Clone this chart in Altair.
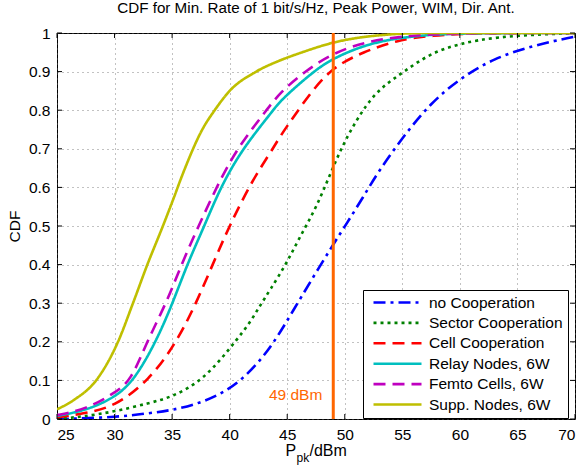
import altair as alt
import pandas as pd

# ---------------- data ----------------
series_names = ["no Cooperation", "Sector Cooperation", "Cell Cooperation",
                "Relay Nodes, 6W", "Femto Cells, 6W", "Supp. Nodes, 6W"]
series_colors = ["#0000FF", "#008000", "#FF0000", "#00BFBF", "#BF00BF", "#BFBF00"]
series_dashes = [[12, 5, 3, 5], [3, 4], [12, 7], [1, 0], [12, 7], [1, 0]]

x_none = [25, 30, 33, 35.07, 37.4, 39.4, 41.2, 42.9, 44.2, 45.5, 47.0, 48.86, 50.16,
          51.6, 53.0, 55.07, 57.4, 60.0, 62.9, 66.4, 69.85, 70]
y_none = [0, 0.004, 0.015, 0.023, 0.041, 0.067, 0.105, 0.16, 0.215, 0.28, 0.355, 0.446,
          0.506, 0.575, 0.645, 0.731, 0.817, 0.882, 0.934, 0.968, 0.99, 0.99]

x_sector = [25, 27.2, 30, 33, 35.1, 37.4, 39.1, 40.6, 41.75, 42.6, 43.5, 44.94, 46.1, 47.55,
            48.8, 50.15, 51.9, 53.3, 55.1, 57.4, 60, 63.2, 67.5, 70]
y_sector = [0, 0.006, 0.019, 0.041, 0.058, 0.097, 0.149, 0.205, 0.249, 0.292, 0.334, 0.403,
            0.472, 0.549, 0.64, 0.731, 0.817, 0.862, 0.899, 0.947, 0.973, 0.99, 0.997, 1.0]

x_cell = [25, 27.5, 30, 33, 35.35, 37.1, 38.8, 40.1, 42, 43.5, 44.35, 45.6, 47.2, 49, 51.6,
          54.5, 57.4, 62, 70]
y_cell = [0.004, 0.015, 0.032, 0.10, 0.197, 0.30, 0.42, 0.508, 0.62, 0.688, 0.731, 0.785,
          0.852, 0.912, 0.951, 0.981, 0.994, 1.0, 1.0]

x_relay = [25, 27.5, 30, 31.7, 33.6, 35.05, 36.3, 37.8, 39.2, 41.1, 43.8, 44.4, 47.25, 49,
           52.2, 56, 60, 70]
y_relay = [0.008, 0.022, 0.055, 0.1, 0.2, 0.3, 0.4, 0.5, 0.6, 0.7, 0.8, 0.825, 0.9, 0.935,
           0.975, 0.993, 1.0, 1.0]

x_femto = [25, 27.5, 30, 31.45, 32.8, 34.5, 35.8, 37.3, 38.85, 40.6, 43.2, 44.35, 46.5, 49,
           52.2, 55.9, 60, 70]
y_femto = [0.010, 0.025, 0.067, 0.1, 0.2, 0.3, 0.4, 0.5, 0.6, 0.7, 0.8, 0.845, 0.9, 0.949,
           0.981, 0.994, 1.0, 1.0]

x_supp = [25, 26.5, 28.4, 30.3, 31.6, 32.85, 34.2, 35.07, 35.94, 37.68, 38.7, 40, 42.3,
          44.3, 46.3, 49, 53, 57.4, 70]
y_supp = [0.025, 0.05, 0.1, 0.2, 0.3, 0.4, 0.5, 0.567, 0.636, 0.753, 0.8, 0.85, 0.9,
          0.928, 0.95, 0.975, 0.994, 1.0, 1.0]

x_ticks = [25, 30, 35, 40, 45, 50, 55, 60, 65, 70]
y_ticks = [0, 0.1, 0.2, 0.3, 0.4, 0.5, 0.6, 0.7, 0.8, 0.9, 1]

marker_x = [49]
marker_label = ["49 dBm"]
marker_label_x = [48.05]
marker_label_y = [0.05]

title_text = "CDF for Min. Rate of 1 bit/s/Hz, Peak Power, WIM, Dir. Ant."

# ---------------- build table ----------------
all_x = [x_none, x_sector, x_cell, x_relay, x_femto, x_supp]
all_y = [y_none, y_sector, y_cell, y_relay, y_femto, y_supp]
rows = []
for name, xs, ys in zip(series_names, all_x, all_y):
    for xv, yv in zip(xs, ys):
        rows.append({"series": name, "x": xv, "y": yv})
df = pd.DataFrame(rows)
smooth_df = df[df["series"] != "Supp. Nodes, 6W"]
supp_df = df[df["series"] == "Supp. Nodes, 6W"]

W, H = 518, 386
FONT = "Liberation Sans"
ORANGE = "#FF6600"

xscale = alt.Scale(domain=[25, 70], nice=False, zero=False)
yscale = alt.Scale(domain=[0, 1], nice=False)
x_axis = alt.Axis(values=x_ticks, title=None, format="d")
y_axis = alt.Axis(values=y_ticks, title="CDF", format="~g")

color_enc = alt.Color(
    "series:N", scale=alt.Scale(domain=series_names, range=series_colors),
    sort=series_names,
    legend=alt.Legend(title=None, orient="none", legendX=306, legendY=257,
                      strokeColor="black", fillColor="white", padding=5,
                      symbolType="stroke", symbolSize=2304,
                      symbolStrokeWidth=2.6, clipHeight=15, rowPadding=4.4,
                      symbolOffset=4, labelOffset=6,
                      labelFontSize=15.5, labelFont=FONT, labelColor="black",
                      cornerRadius=0))
dash_enc = alt.StrokeDash(
    "series:N", scale=alt.Scale(domain=series_names, range=series_dashes),
    sort=series_names, legend=alt.Legend(title=None))


def curve_layer(data, interp):
    return alt.Chart(data).mark_line(strokeWidth=2.6, clip=True, interpolate=interp).encode(
        x=alt.X("x:Q", scale=xscale, axis=x_axis),
        y=alt.Y("y:Q", scale=yscale, axis=y_axis),
        color=color_enc,
        strokeDash=dash_enc,
        order=alt.Order("x:Q"),
    )


lines = curve_layer(smooth_df, "basis")
supp_line = curve_layer(supp_df, "monotone")

marker_df = pd.DataFrame({"x": marker_x})
marker = alt.Chart(marker_df).mark_rule(color=ORANGE, strokeWidth=3).encode(
    x=alt.X("x:Q", scale=xscale, axis=x_axis))

label_df = pd.DataFrame({"x": marker_label_x, "y": marker_label_y, "t": marker_label})
marker_text = alt.Chart(label_df).mark_text(
    color=ORANGE, font=FONT, fontSize=15.5, align="right", baseline="alphabetic"
).encode(x=alt.X("x:Q", scale=xscale, axis=x_axis),
         y=alt.Y("y:Q", scale=yscale, axis=y_axis), text="t:N")

# inward ticks on all four sides
xt = pd.DataFrame({"x": x_ticks})
yt = pd.DataFrame({"y": y_ticks})
tick_style = dict(color="black", strokeWidth=1)
xt_bottom = alt.Chart(xt).mark_rule(**tick_style).encode(
    x=alt.X("x:Q", scale=xscale, axis=x_axis), y=alt.value(H), y2=alt.value(H - 5))
xt_top = alt.Chart(xt).mark_rule(**tick_style).encode(
    x=alt.X("x:Q", scale=xscale, axis=x_axis), y=alt.value(0), y2=alt.value(5))
yt_left = alt.Chart(yt).mark_rule(**tick_style).encode(
    y=alt.Y("y:Q", scale=yscale, axis=y_axis), x=alt.value(0), x2=alt.value(5))
yt_right = alt.Chart(yt).mark_rule(**tick_style).encode(
    y=alt.Y("y:Q", scale=yscale, axis=y_axis), x=alt.value(W), x2=alt.value(W - 5))

# x-axis title with subscript
t1 = alt.Chart(pd.DataFrame({"t": ["P"]})).mark_text(
    font=FONT, fontSize=16, align="left", baseline="alphabetic", color="black"
).encode(text="t:N", x=alt.value(228.5), y=alt.value(422.5))
t2 = alt.Chart(pd.DataFrame({"t": ["pk"]})).mark_text(
    font=FONT, fontSize=12, align="left", baseline="alphabetic", color="black"
).encode(text="t:N", x=alt.value(239.5), y=alt.value(428.5))
t3 = alt.Chart(pd.DataFrame({"t": ["/dBm"]})).mark_text(
    font=FONT, fontSize=16, align="left", baseline="alphabetic", color="black"
).encode(text="t:N", x=alt.value(252.5), y=alt.value(422.5))

chart = alt.layer(
    lines, supp_line, xt_bottom, xt_top, yt_left, yt_right, marker, marker_text, t1, t2, t3
).properties(
    width=W, height=H,
    title=alt.TitleParams(title_text, font=FONT, fontSize=15.2, fontWeight="normal",
                          color="black", anchor="middle", offset=10),
    autosize=alt.AutoSizeParams(type="none"),
    padding={"left": 57, "top": 33, "right": 8, "bottom": 47},
    background="white",
).configure_view(
    stroke="black", strokeWidth=1
).configure_axis(
    grid=True, gridColor="#666666", gridDash=[1, 4], gridWidth=0.8,
    ticks=False, domain=False,
    labelFont=FONT, labelFontSize=15.5, labelColor="black",
    titleFont=FONT, titleFontSize=15.5, titleFontWeight="normal", titleColor="black",
).configure_axisX(
    labelPadding=8
).configure_axisY(
    labelPadding=7, titlePadding=6
)

chart.save("out.html", embed_options={"renderer": "svg", "actions": False})
